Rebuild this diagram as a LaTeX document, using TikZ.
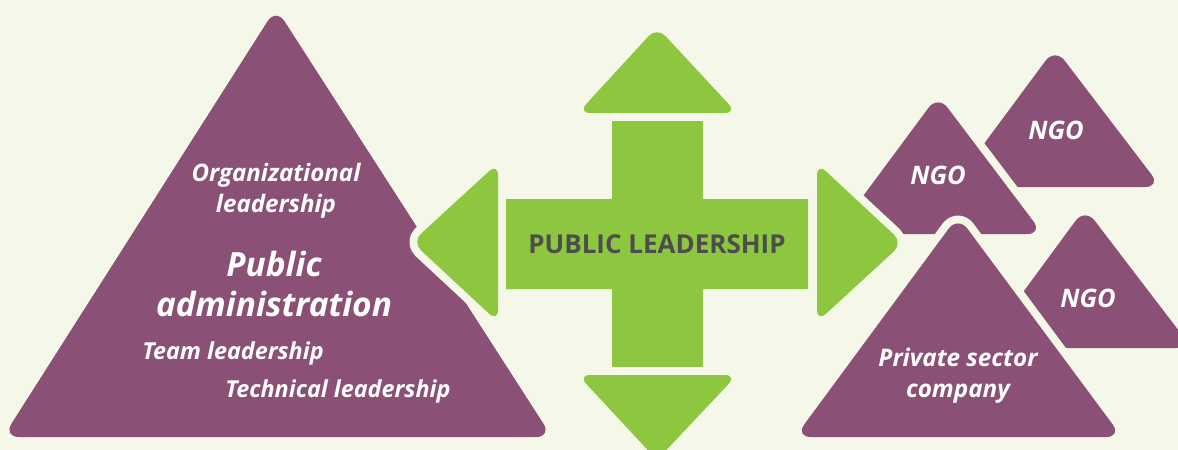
\documentclass[tikz,border=0pt]{standalone}
\usepackage{fontspec}
\setmainfont{Open Sans}
\definecolor{cream}{HTML}{F5F7E8}
\definecolor{plum}{HTML}{8A5075}
\definecolor{leaf}{HTML}{8DC63F}
\definecolor{inkgray}{HTML}{4D4D4D}
\tikzset{
  cutout/.style={preaction={draw=cream, line width=9pt, line join=round}},
  plumtri/.style={fill=plum, rounded corners=9pt, cutout},
  leafhead/.style={fill=leaf, rounded corners=7pt, cutout},
  whitelabel/.style={text=white, font=\bfseries\itshape, align=center, inner sep=0pt},
}
\begin{document}
\begin{tikzpicture}[x=0.02cm, y=-0.02cm]
  \fill[cream] (0,0) rectangle (1178,450);
  \useasboundingbox (0,0) rectangle (1178,450);
  % right hand group of triangles (back to front)
  \path[plumtri] (1055,48) -- (1161,187) -- (952,187) -- cycle;   % NGO top right
  \path[plumtri] (1085,208) -- (1192,348) -- (982,348) -- cycle;  % NGO bottom right
  \path[plumtri] (938,95) -- (1043,234) -- (835,234) -- cycle;    % NGO middle
  \path[plumtri] (958,216) -- (1122,437) -- (795,437) -- cycle;   % private sector
  % public administration
  \path[plumtri] (276,8) -- (552,437) -- (3,437) -- cycle;
  % green cross
  \path[fill=leaf, cutout] (612,120) -- (703,120) -- (703,199) -- (808,199) -- (808,289)
    -- (703,289) -- (703,368) -- (612,368) -- (612,289) -- (506,289) -- (506,199)
    -- (612,199) -- cycle;
  \path[leafhead] (657,27) -- (737,113) -- (578,113) -- cycle;    % up
  \path[leafhead] (657,460) -- (578,375) -- (737,375) -- cycle;   % down
  \path[leafhead] (412,242) -- (498,163) -- (498,322) -- cycle;   % left
  \path[leafhead] (903,243) -- (817,322) -- (817,163) -- cycle;   % right
  % labels
  \node[whitelabel, font=\fontsize{13.7}{17.5}\selectfont\bfseries\itshape] (orglead) at (276,191) {Organizational\\leadership};
  \node[whitelabel, font=\fontsize{19}{22.7}\selectfont\bfseries\itshape] (pubadmin) at (274,284) {Public\\administration};
  \node[whitelabel, font=\fontsize{13.3}{15}\selectfont\bfseries\itshape] (teamlead) at (233,353) {Team leadership};
  \node[whitelabel, font=\fontsize{13.3}{15}\selectfont\bfseries\itshape] (techlead) at (338,391) {Technical leadership};
  \node[text=inkgray, font=\fontsize{14.8}{16}\selectfont\bfseries, inner sep=0pt] (publead) at (657,244) {PUBLIC LEADERSHIP};
  \node[whitelabel, font=\fontsize{14.5}{16}\selectfont\bfseries\itshape] (ngomid) at (938,175) {NGO};
  \node[whitelabel, font=\fontsize{14.5}{16}\selectfont\bfseries\itshape] (ngotop) at (1056,130) {NGO};
  \node[whitelabel, font=\fontsize{14.5}{16}\selectfont\bfseries\itshape] (ngolow) at (1088,298) {NGO};
  \node[whitelabel, font=\fontsize{13.8}{17.5}\selectfont\bfseries\itshape] (privco) at (958,376) {Private sector\\company};
\end{tikzpicture}
\end{document}
